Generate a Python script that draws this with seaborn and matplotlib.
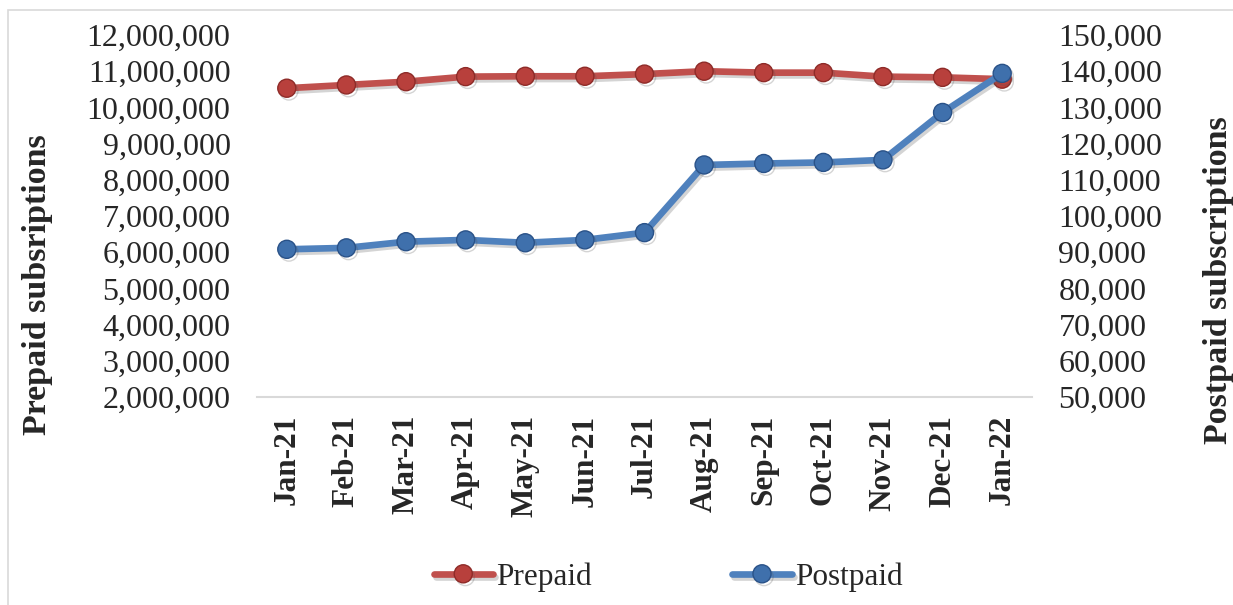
import pandas as pd
import matplotlib
matplotlib.use("Agg")
import matplotlib.pyplot as plt
import matplotlib.patheffects as pe
from matplotlib.patches import Rectangle
from matplotlib.ticker import FuncFormatter, MultipleLocator
import seaborn as sns

# data
months = ["Jan-21", "Feb-21", "Mar-21", "Apr-21", "May-21", "Jun-21", "Jul-21",
          "Aug-21", "Sep-21", "Oct-21", "Nov-21", "Dec-21", "Jan-22"]
prepaid = [10530000, 10620000, 10710000, 10850000, 10860000, 10860000, 10920000,
           11000000, 10960000, 10960000, 10850000, 10830000, 10780000]
postpaid = [90800, 91200, 92900, 93400, 92600, 93400, 95400,
            114100, 114500, 114800, 115500, 128600, 139400]

df = pd.DataFrame({"month": months, "Prepaid": prepaid, "Postpaid": postpaid})

sns.set_style("white")
plt.rcParams["font.family"] = ["Liberation Serif", "DejaVu Serif"]

red = "#C0504D"
blue = "#4F81BD"
shadow = [pe.SimpleLineShadow(offset=(1.5, -2), shadow_color="#555555", alpha=0.25),
          pe.Normal()]

fig = plt.figure(figsize=(12.33, 6.05), dpi=100)
ax = fig.add_axes([257 / 1233, 1 - 397 / 605, 775 / 1233, 362 / 605])
ax2 = ax.twinx()

sns.lineplot(data=df, x="month", y="Prepaid", ax=ax, color=red, lw=4.8,
             marker="o", markersize=13, markerfacecolor="#B8403C",
             markeredgecolor="#8E2B28", markeredgewidth=1.0, sort=False,
             label="Prepaid", legend=False, path_effects=shadow)
sns.lineplot(data=df, x="month", y="Postpaid", ax=ax2, color=blue, lw=4.8,
             marker="o", markersize=13, markerfacecolor="#3F70AC",
             markeredgecolor="#2A5288", markeredgewidth=1.0, sort=False,
             label="Postpaid", legend=False, path_effects=shadow)

ax.set_ylim(2000000, 12000000)
ax.yaxis.set_major_locator(MultipleLocator(1000000))
ax2.set_ylim(50000, 150000)
ax2.yaxis.set_major_locator(MultipleLocator(10000))
ax.set_xlim(-0.5, len(months) - 0.5)

fmt = FuncFormatter(lambda v, p: f"{v:,.0f}")
ax.yaxis.set_major_formatter(fmt)
ax2.yaxis.set_major_formatter(fmt)

for a in (ax, ax2):
    for s in a.spines.values():
        s.set_visible(False)
    a.grid(False)
ax.spines["bottom"].set_visible(True)
ax.spines["bottom"].set_color("#D9D9D9")
ax.spines["bottom"].set_linewidth(1.5)

ax.tick_params(axis="y", length=0, pad=19, labelsize=23)
ax2.tick_params(axis="y", length=0, pad=19, labelsize=23)
ax.tick_params(axis="x", length=0, pad=13, labelsize=22.5)
for lab in ax.get_xticklabels():
    lab.set_rotation(90)
    lab.set_fontweight("bold")
    lab.set_va("top")

ax.set_xlabel("")
ax.set_ylabel("Prepaid subsriptions", fontsize=24.5, fontweight="bold")
ax2.set_ylabel("Postpaid subscriptions", fontsize=24.5, fontweight="bold")
ax.yaxis.set_label_coords((38 - 257) / 775, (397 - 285) / 362)
ax2.yaxis.set_label_coords((1219 - 257) / 775, (397 - 280) / 362)
ax.yaxis.label.set_va("center")
ax2.yaxis.label.set_va("center")

h1, l1 = ax.get_legend_handles_labels()
h2, l2 = ax2.get_legend_handles_labels()
fig.legend(h1 + h2, l1 + l2, loc="center", bbox_to_anchor=(668 / 1233, 1 - 577 / 605),
           ncol=2, frameon=False, fontsize=22.5, handlelength=1.9, handletextpad=0.1,
           columnspacing=4.5)

fig.patches.append(Rectangle((8 / 1233, -0.01), 1.0, 1 - 10 / 605 + 0.01,
                             transform=fig.transFigure, fill=False,
                             edgecolor="#D9D9D9", lw=1.2))

fig.savefig("out.png", dpi=100)
